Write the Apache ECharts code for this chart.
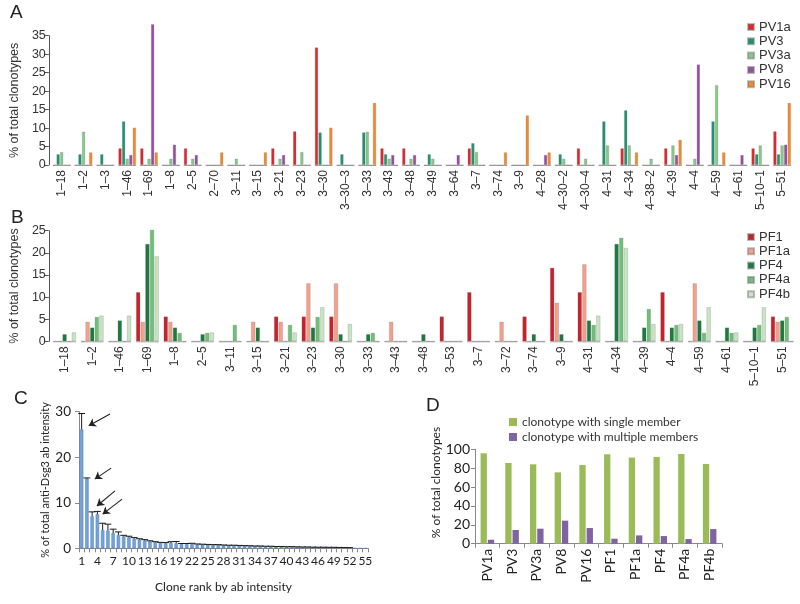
<!DOCTYPE html>
<html><head><meta charset="utf-8">
<script src="https://cdn.jsdelivr.net/npm/echarts@6/dist/echarts.min.js"></script>
<style>html,body{margin:0;padding:0;background:#fff}#c{width:800px;height:604px}</style>
</head><body><div id="c"></div><script>
// ---------- Panel A ----------
const catsA = ['1–18','1–2','1–3','1–46','1–69','1–8','2–5','2–70','3–11','3–15','3–21','3–23','3–30','3–30–3','3–33','3–43','3–48','3–49','3–64','3–7','3–74','3–9','4–28','4–30–2','4–30–4','4–31','4–34','4–38–2','4–39','4–4','4–59','4–61','5–10–1','5–51'];
const pv1a = [0,0,0,4.5,4.5,0,4.5,0,0,0,4.5,9.1,31.8,0,0,4.5,4.5,0,0,4.5,0,0,0,0,4.5,0,4.5,0,4.5,0,0,0,4.5,9.1];
const pv3  = [2.9,2.9,2.9,11.8,0,0,0,0,0,0,0,0,8.8,2.9,8.8,2.9,0,2.9,0,5.9,0,0,0,2.9,0,11.8,14.8,0,0,0,11.8,0,2.9,2.9];
const pv3a = [3.5,9.0,0,1.7,1.7,1.7,1.7,0,1.7,0,1.7,3.5,0,0,9.0,1.7,1.7,1.7,0,3.5,0,0,0,1.7,1.7,5.3,5.3,1.7,5.3,1.7,21.6,0,5.3,5.3];
const pv8  = [0,0,0,2.7,38.1,5.5,2.7,0,0,0,2.7,0,0,0,0,2.7,2.7,0,2.7,0,0,0,2.7,0,0,0,0,0,2.7,27.2,0,2.7,0,5.5];
const pv16 = [0,3.4,0,10.1,3.4,0,0,3.4,0,3.4,0,0,10.1,0,16.8,0,0,0,0,0,3.4,13.4,3.4,0,0,0,3.4,0,6.8,0,3.4,0,0,16.8];
// ---------- Panel B ----------
const catsB = ['1–18','1–2','1–46','1–69','1–8','2–5','3–11','3–15','3–21','3–23','3–30','3–33','3–43','3–48','3–53','3–7','3–72','3–74','3–9','4–31','4–34','4–39','4–4','4–59','4–61','5–10–1','5–51'];
const pf1  = [0,0,0,11.1,5.6,0,0,0,5.6,5.6,5.6,0,0,0,5.6,11.1,0,5.6,16.6,11.1,0,0,11.1,0,0,0,5.6];
const pf1a = [0,4.4,0,4.4,4.4,0,0,4.4,4.4,13.1,13.1,0,4.4,0,0,0,4.4,0,8.7,17.4,0,0,0,13.1,0,0,4.4];
const pf4  = [1.6,3.1,4.7,22.0,3.1,1.6,0,3.1,0,3.1,1.6,1.6,0,1.6,0,0,0,1.6,1.6,4.7,22.0,3.1,3.1,4.7,3.1,3.1,4.7];
const pf4a = [0,5.5,0,25.2,1.9,1.9,3.7,0,3.7,5.5,0,1.9,0,0,0,0,0,0,0,3.7,23.4,7.3,3.7,1.9,1.9,3.7,5.5];
const pf4b = [2.0,5.8,5.8,19.2,0,2.0,0,0,2.0,7.7,3.9,0,0,0,0,0,0,0,0,5.8,21.1,3.9,3.9,7.7,2.0,7.7,0];
// ---------- Panel C ----------
const rankC = ['1','2','3','4','5','6','7','8','9','10','11','12','13','14','15','16','17','18','19','20','21','22','23','24','25','26','27','28','29','30','31','32','33','34','35','36','37','38','39','40','41','42','43','44','45','46','47','48','49','50','51','52','53','54','55'];
const valC = [26.1,15.3,7.0,7.5,4.0,3.9,3.3,2.9,2.6,2.4,2.1,1.9,1.7,1.5,1.3,1.2,1.1,1.1,1.1,0.9,0.9,0.9,0.8,0.8,0.75,0.7,0.7,0.65,0.6,0.6,0.55,0.5,0.5,0.45,0.45,0.4,0.4,0.35,0.35,0.3,0.3,0.28,0.25,0.25,0.22,0.2,0.2,0.18,0.18,0.15,0.15,0.12,0,0,0];
const errC = [3.5,0.15,1.0,0.6,1.5,1.4,0.9,0.7,0.25,0.25,0.25,0.2,0.2,0.15,0.15,0.1,0.15,0.35,0.4,0.15,0.15,0.2,0.15,0.1,0.1,0.1,0.1,0.08,0.08,0.08,0.08,0.08,0.06,0.06,0.06,0.06,0.05,0.05,0.05,0.05,0.06,0.04,0.04,0.04,0.04,0.04,0.04,0.04,0.04,0.04,0.03,0.03,0,0,0];
const arrowsC = [[[5.9,29.5],[1.85,26.9]],[[6.1,17.6],[3.0,15.2]],[[6.85,12.6],[3.4,9.3]],[[8.2,10.8],[4.5,7.5]]];
// ---------- Panel D ----------
const catsD = ['PV1a','PV3','PV3a','PV8','PV16','PF1','PF1a','PF4','PF4a','PF4b'];
const singleD = [95.8,85.5,84.1,75.6,83.4,94.7,91.2,91.9,95.1,84.5];
const multiD  = [4.2,14.5,15.9,24.4,16.6,5.3,8.8,8.1,4.9,15.5];

const colorsA = ['#e0262e','#1f9470','#86c98a','#984ea3','#f5892a'];
const colorsB = ['#c9202b','#f4a08a','#1b7a3d','#6fbf78','#c8e4c3'];
const namesA = ['PV1a','PV3','PV3a','PV8','PV16'];
const namesB = ['PF1','PF1a','PF4','PF4a','PF4b'];
const dataA = [pv1a,pv3,pv3a,pv8,pv16];
const dataB = [pf1,pf1a,pf4,pf4a,pf4b];
const ARIAL = 'Liberation Sans';
const LATO = 'Lato';

function baseline(xi, yi, cats){
  return {type:'custom', xAxisIndex:xi, yAxisIndex:yi, z:1, silent:true,
    data: cats.map((c,i)=>[i,0]),
    renderItem:function(p, api){
      const c = api.coord([api.value(0), 0]);
      const w = api.size([1,0])[0]*0.82;
      return {type:'line', shape:{x1:c[0]-w/2,y1:c[1]+0.5,x2:c[0]+w/2,y2:c[1]+0.5}, style:{stroke:'#a0a0a0', lineWidth:1}};
    }};
}

const series = [];
dataA.forEach((d,k)=>series.push({type:'bar', name:namesA[k], xAxisIndex:0, yAxisIndex:0, data:d, clip:false,
  barCategoryGap:'20%', barGap:'15%', itemStyle:{color:colorsA[k], borderColor:'rgba(120,120,120,0.5)', borderWidth:0.5}, z:2}));
dataB.forEach((d,k)=>series.push({type:'bar', name:namesB[k], xAxisIndex:1, yAxisIndex:1, data:d, clip:false,
  barCategoryGap:'18%', barGap:'12%', itemStyle:{color:colorsB[k], borderColor:'rgba(120,120,120,0.5)', borderWidth:0.5}, z:2}));
series.push(baseline(0,0,catsA));
series.push(baseline(1,1,catsB));
series.push({type:'bar', name:'C', xAxisIndex:2, yAxisIndex:2, data:valC, barCategoryGap:'35%',
  itemStyle:{color:'#74a3da', borderColor:'#4f7fba', borderWidth:0.5}});
series.push({type:'custom', xAxisIndex:2, yAxisIndex:2, z:5, silent:true,
  data: valC.map((v,i)=>[i, v, v+errC[i]]),
  renderItem:function(p, api){
    if (api.value(2) <= api.value(1)) return null;
    const lo = api.coord([api.value(0), api.value(1)]);
    const hi = api.coord([api.value(0), api.value(2)]);
    const hw = api.size([1,0])[0]*0.65;
    return {type:'group', children:[
      {type:'line', shape:{x1:lo[0],y1:lo[1],x2:hi[0],y2:hi[1]}, style:{stroke:'#1a1a1a', lineWidth:1}},
      {type:'line', shape:{x1:hi[0]-hw,y1:hi[1],x2:hi[0]+hw,y2:hi[1]}, style:{stroke:'#1a1a1a', lineWidth:1}}
    ]};
  }});
series.push({type:'lines', coordinateSystem:'cartesian2d', xAxisIndex:4, yAxisIndex:2, silent:true,
  symbol:['none','arrow'], symbolSize:7,
  lineStyle:{color:'#222', width:1.1, opacity:1},
  data: arrowsC.map(a=>({coords:a}))});
series.push({type:'bar', name:'clonotype with single member', xAxisIndex:3, yAxisIndex:3, data:singleD,
  barGap:'15%', barCategoryGap:'45%', itemStyle:{color:'#9bbb59'}});
series.push({type:'bar', name:'clonotype with multiple members', xAxisIndex:3, yAxisIndex:3, data:multiD,
  barGap:'15%', barCategoryGap:'45%', itemStyle:{color:'#8064a2'}});

function catAxisAB(gi, cats){
  return {type:'category', gridIndex:gi, data:cats, axisLine:{show:false}, axisTick:{show:false},
    axisLabel:{interval:0, rotate:90, fontFamily:ARIAL, fontSize:12, color:'#333', margin:5}};
}
function valAxisAB(gi, max){
  return {type:'value', gridIndex:gi, min:0, max:max, interval:5, offset:2,
    name:'% of total clonotypes', nameLocation:'middle', nameGap:19,
    nameTextStyle:{fontFamily:ARIAL, fontSize:12.5, color:'#333'},
    axisLine:{show:true, lineStyle:{color:'#555'}}, axisTick:{show:true, length:4, lineStyle:{color:'#555'}},
    splitLine:{show:false}, axisLabel:{fontFamily:ARIAL, fontSize:12.5, color:'#333', margin:3}};
}

const option = {
  animation:false,
  backgroundColor:'#fff',
  graphic:[
    {type:'text', left:10, top:3, style:{text:'A', font:'19px Liberation Sans', fill:'#222'}},
    {type:'text', left:11, top:208, style:{text:'B', font:'19px Liberation Sans', fill:'#222'}},
    {type:'text', left:14, top:389, style:{text:'C', font:'19px Liberation Sans', fill:'#222'}},
    {type:'text', left:426, top:396, style:{text:'D', font:'19px Liberation Sans', fill:'#222'}}
  ],
  legend:[
    {data:namesA, orient:'vertical', left:742, top:15.5, itemWidth:6, itemHeight:6, itemGap:1.3, icon:'rect',
      textStyle:{fontFamily:ARIAL, fontSize:13, color:'#333'}},
    {data:namesB, orient:'vertical', left:742, top:225.5, itemWidth:6, itemHeight:6, itemGap:1.3, icon:'rect',
      textStyle:{fontFamily:ARIAL, fontSize:13, color:'#333'}},
    {data:['clonotype with single member','clonotype with multiple members'], orient:'vertical', left:504, top:411,
      itemWidth:8, itemHeight:8, itemGap:3, icon:'rect', textStyle:{fontFamily:LATO, fontSize:12, color:'#333'}}
  ],
  grid:[
    {left:39, top:35.7, width:754, height:129.3},
    {left:39, top:230.7, width:757, height:110.6},
    {left:79, top:411.7, width:289, height:136.6},
    {left:475, top:449.3, width:247, height:94.4}
  ],
  xAxis:[
    catAxisAB(0, catsA),
    catAxisAB(1, catsB),
    {type:'category', gridIndex:2, data:rankC,
      name:'Clone rank by ab intensity', nameLocation:'middle', nameGap:33,
      nameTextStyle:{fontFamily:LATO, fontSize:12, color:'#222'},
      axisLine:{lineStyle:{color:'#888'}}, axisTick:{show:true, interval:0, length:4, lineStyle:{color:'#888'}},
      axisLabel:{interval:2, fontFamily:LATO, fontSize:12, color:'#222', margin:7}},
    {type:'category', gridIndex:3, data:catsD,
      axisLine:{lineStyle:{color:'#888'}}, axisTick:{show:true, length:4, lineStyle:{color:'#888'}},
      axisLabel:{interval:0, rotate:90, fontFamily:LATO, fontSize:14, color:'#222', margin:5}},
    {type:'value', gridIndex:2, min:0, max:55, show:false}
  ],
  yAxis:[
    valAxisAB(0, 35),
    valAxisAB(1, 25),
    {type:'value', gridIndex:2, min:0, max:30, interval:10,
      name:'% of total anti-Dsg3 ab intensity', nameLocation:'middle', nameGap:26,
      nameTextStyle:{fontFamily:LATO, fontSize:11, color:'#222'},
      axisLine:{show:true, lineStyle:{color:'#888'}}, axisTick:{show:true, length:4, lineStyle:{color:'#888'}},
      splitLine:{show:false}, axisLabel:{fontFamily:LATO, fontSize:13.5, color:'#222', margin:8}},
    {type:'value', gridIndex:3, min:0, max:100, interval:20,
      name:'% of total clonotypes', nameLocation:'middle', nameGap:32,
      nameTextStyle:{fontFamily:LATO, fontSize:12, color:'#222', padding:[0,0,0,28]},
      axisLine:{show:true, lineStyle:{color:'#888'}}, axisTick:{show:true, length:4, lineStyle:{color:'#888'}},
      splitLine:{show:false}, axisLabel:{fontFamily:LATO, fontSize:14, color:'#222', margin:5}}
  ],
  series: series
};
const chart = echarts.init(document.getElementById('c'), null, {renderer:'canvas'});
chart.setOption(option);
</script></body></html>
